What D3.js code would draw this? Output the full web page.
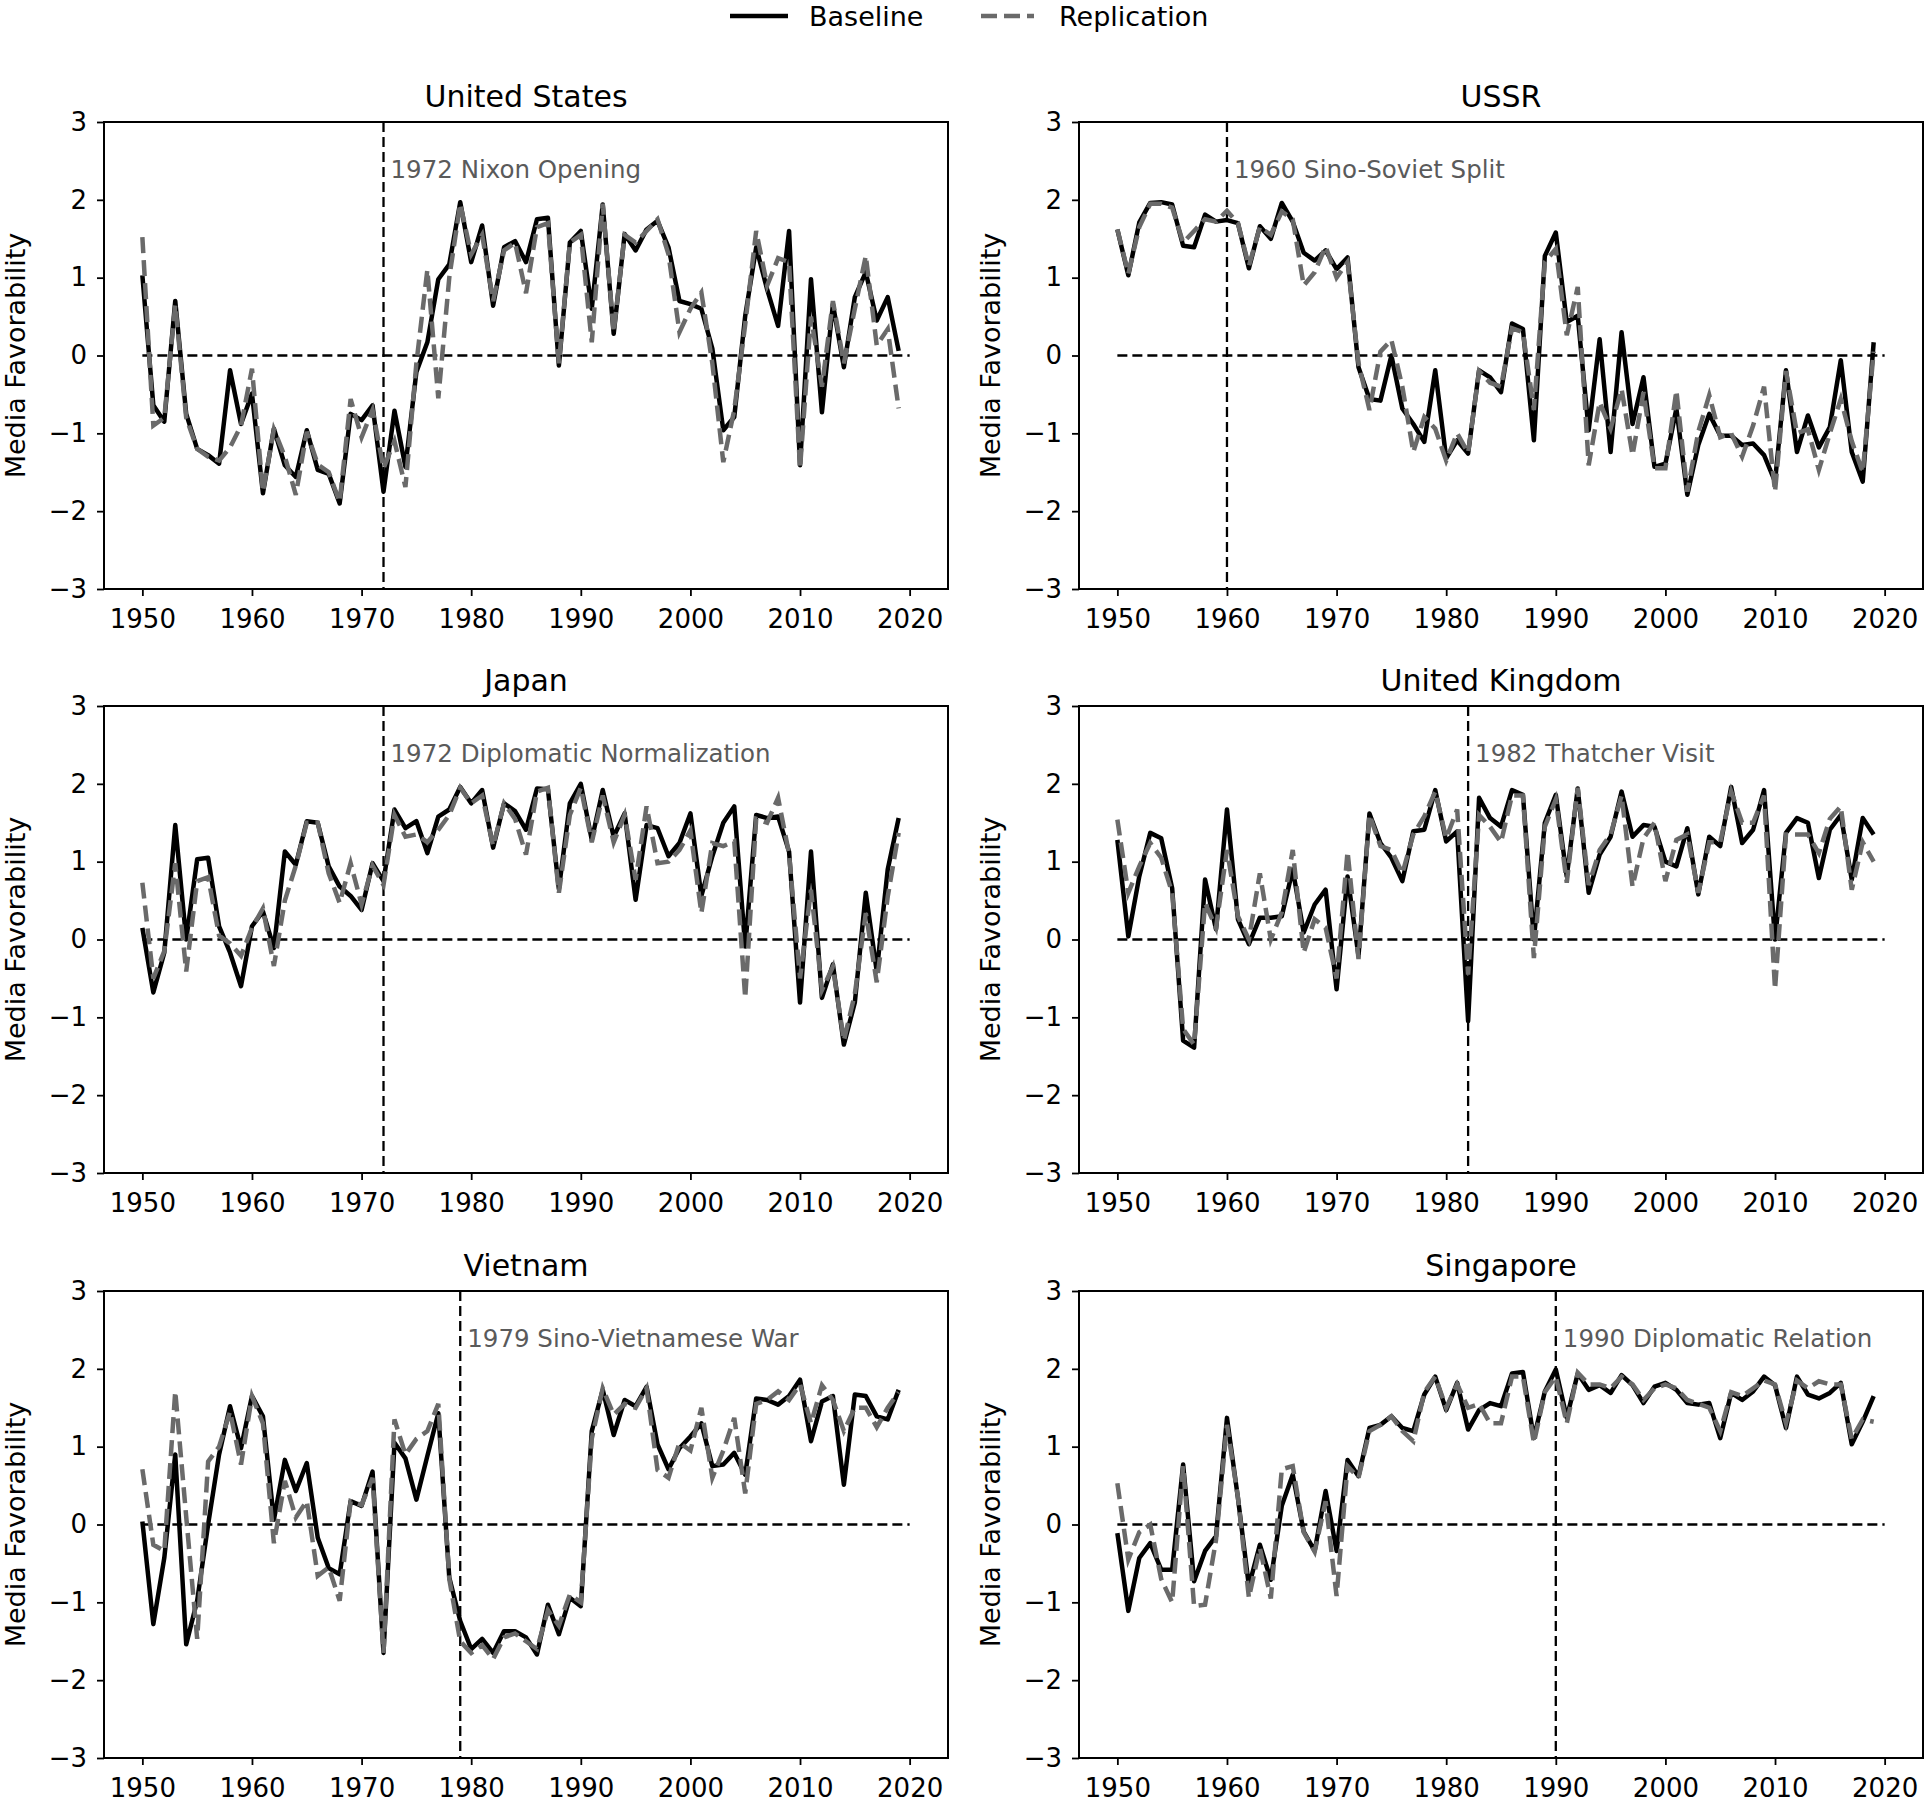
<!DOCTYPE html>
<html>
<head>
<meta charset="utf-8">
<script src="https://cdn.jsdelivr.net/npm/d3@7"></script>
<style>
  body { margin: 0; background: #fff; }
  svg { display: block; font-family: "DejaVu Sans", sans-serif; }
</style>
</head>
<body>
<div class="chart"></div>
<script>
// years on the x axis (1950..2019)
const years = d3.range(1950, 2020)
const xTicks = [1950, 1960, 1970, 1980, 1990, 2000, 2010, 2020]
const yTicks = [-3, -2, -1, 0, 1, 2, 3]

// United States
const usBaseline = [1.03, -0.64, -0.85, 0.70, -0.75, -1.20, -1.28, -1.39, -0.19, -0.88,
  -0.49, -1.77, -0.94, -1.41, -1.56, -0.96, -1.47, -1.52, -1.90, -0.75,
  -0.83, -0.64, -1.75, -0.71, -1.43, -0.21, 0.17, 0.98, 1.17, 1.97,
  1.20, 1.67, 0.64, 1.39, 1.47, 1.20, 1.75, 1.77, -0.13, 1.45,
  1.60, 0.60, 1.94, 0.28, 1.56, 1.35, 1.62, 1.73, 1.39, 0.70,
  0.66, 0.60, 0.09, -0.96, -0.79, 0.51, 1.39, 0.85, 0.38, 1.60,
  -1.41, 0.98, -0.73, 0.66, -0.15, 0.75, 1.07, 0.45, 0.75, 0.06]
const usReplication = [1.52, -0.90, -0.80, 0.65, -0.80, -1.20, -1.30, -1.35, -1.18, -0.90,
  -0.17, -1.75, -0.95, -1.30, -1.79, -0.98, -1.40, -1.50, -1.88, -0.56,
  -1.05, -0.70, -1.45, -1.10, -1.69, -0.10, 1.10, -0.55, 1.00, 1.95,
  1.30, 1.55, 0.70, 1.35, 1.45, 0.80, 1.65, 1.70, -0.10, 1.45,
  1.55, 0.17, 1.95, 0.30, 1.55, 1.45, 1.60, 1.75, 1.30, 0.30,
  0.60, 0.81, -0.10, -1.37, -0.70, 0.40, 1.60, 0.90, 1.25, 1.20,
  -1.45, 0.50, -0.40, 0.70, -0.10, 0.60, 1.28, 0.13, 0.34, -0.68]

// USSR
const ussrBaseline = [1.62, 1.03, 1.71, 1.96, 1.97, 1.94, 1.41, 1.39, 1.81, 1.72,
  1.74, 1.70, 1.12, 1.66, 1.50, 1.96, 1.72, 1.32, 1.22, 1.35,
  1.11, 1.26, -0.15, -0.56, -0.58, 0.00, -0.68, -0.88, -1.11, -0.19,
  -1.32, -1.09, -1.26, -0.19, -0.28, -0.47, 0.41, 0.34, -1.09, 1.28,
  1.58, 0.43, 0.51, -0.96, 0.21, -1.24, 0.30, -0.88, -0.28, -1.43,
  -1.39, -0.68, -1.79, -1.15, -0.75, -1.03, -1.03, -1.15, -1.13, -1.28,
  -1.62, -0.19, -1.24, -0.77, -1.18, -0.92, -0.06, -1.24, -1.62, 0.17]
const ussrReplication = [1.62, 1.05, 1.65, 1.95, 1.95, 1.90, 1.45, 1.60, 1.75, 1.72,
  1.86, 1.70, 1.15, 1.65, 1.55, 1.85, 1.75, 0.90, 1.07, 1.40,
  1.00, 1.20, -0.10, -0.70, 0.05, 0.20, -0.40, -1.24, -0.79, -0.94,
  -1.35, -1.00, -1.25, -0.20, -0.35, -0.40, 0.35, 0.30, -0.70, 1.20,
  1.37, 0.26, 0.88, -1.41, -0.60, -0.94, -0.43, -1.28, -0.47, -1.45,
  -1.45, -0.45, -1.75, -0.98, -0.51, -1.05, -1.00, -1.30, -0.90, -0.40,
  -1.75, -0.20, -1.00, -0.95, -1.47, -1.00, -0.56, -1.10, -1.50, 0.05]

// Japan
const japanBaseline = [0.15, -0.68, -0.17, 1.47, 0.00, 1.03, 1.05, 0.17, -0.17, -0.60,
  0.17, 0.36, -0.11, 1.13, 0.96, 1.52, 1.50, 0.94, 0.68, 0.56,
  0.38, 0.98, 0.75, 1.67, 1.43, 1.52, 1.11, 1.58, 1.67, 1.96,
  1.75, 1.92, 1.18, 1.75, 1.65, 1.41, 1.94, 1.93, 0.65, 1.75,
  2.00, 1.28, 1.92, 1.32, 1.62, 0.51, 1.47, 1.43, 1.07, 1.24,
  1.62, 0.56, 1.07, 1.50, 1.71, -0.09, 1.60, 1.56, 1.58, 1.13,
  -0.81, 1.13, -0.75, -0.32, -1.35, -0.81, 0.60, -0.41, 0.90, 1.56]
const japanReplication = [0.73, -0.50, -0.15, 0.98, -0.41, 0.75, 0.80, 0.05, -0.05, -0.21,
  0.15, 0.40, -0.34, 0.50, 0.95, 1.50, 1.50, 0.85, 0.47, 0.98,
  0.45, 0.95, 0.70, 1.60, 1.32, 1.35, 1.25, 1.41, 1.60, 1.95,
  1.75, 1.85, 1.20, 1.75, 1.55, 1.09, 1.90, 1.95, 0.60, 1.60,
  1.95, 1.25, 1.85, 1.25, 1.60, 0.77, 1.71, 0.98, 1.00, 1.15,
  1.40, 0.34, 1.24, 1.20, 1.26, -0.75, 1.55, 1.50, 1.82, 1.10,
  -0.50, 0.64, -0.65, -0.35, -1.30, -0.70, 0.34, -0.55, 0.55, 1.37]

// United Kingdom
const ukBaseline = [1.28, 0.04, 0.81, 1.37, 1.30, 0.66, -1.30, -1.39, 0.77, 0.13,
  1.67, 0.26, -0.06, 0.28, 0.28, 0.30, 0.90, 0.09, 0.45, 0.64,
  -0.64, 0.81, -0.21, 1.62, 1.24, 1.05, 0.75, 1.39, 1.41, 1.92,
  1.26, 1.39, -1.05, 1.82, 1.56, 1.45, 1.92, 1.86, 0.00, 1.50,
  1.86, 0.81, 1.94, 0.60, 1.09, 1.32, 1.90, 1.32, 1.47, 1.45,
  1.00, 0.94, 1.43, 0.58, 1.32, 1.20, 1.96, 1.24, 1.41, 1.92,
  0.00, 1.37, 1.56, 1.50, 0.79, 1.41, 1.60, 0.77, 1.56, 1.35]
const ukReplication = [1.54, 0.60, 0.94, 1.24, 1.05, 0.60, -1.15, -1.35, 0.47, 0.15,
  1.15, 0.30, 0.00, 0.85, 0.00, 0.35, 1.15, -0.17, 0.26, 0.15,
  -0.50, 1.13, -0.25, 1.60, 1.20, 1.15, 0.85, 1.35, 1.58, 1.90,
  1.30, 1.67, -0.45, 1.60, 1.45, 1.25, 1.85, 1.85, -0.24, 1.45,
  1.80, 0.73, 1.95, 0.70, 1.15, 1.35, 1.85, 0.68, 1.30, 1.50,
  0.75, 1.28, 1.35, 0.60, 1.25, 1.25, 1.90, 1.50, 1.50, 1.85,
  -0.64, 1.35, 1.35, 1.35, 1.11, 1.55, 1.71, 0.64, 1.25, 1.00]

// Vietnam
const vietnamBaseline = [0.04, -1.28, -0.43, 0.90, -1.54, -0.98, 0.00, 0.90, 1.52, 0.98,
  1.65, 1.39, 0.06, 0.83, 0.43, 0.79, -0.17, -0.56, -0.64, 0.30,
  0.24, 0.68, -1.65, 1.05, 0.85, 0.32, 0.88, 1.43, -0.68, -1.24,
  -1.60, -1.47, -1.65, -1.37, -1.37, -1.45, -1.67, -1.03, -1.41, -0.94,
  -1.05, 1.20, 1.73, 1.15, 1.60, 1.52, 1.77, 1.03, 0.71, 0.98,
  1.13, 1.30, 0.75, 0.77, 0.92, 0.64, 1.62, 1.60, 1.54, 1.65,
  1.86, 1.07, 1.58, 1.65, 0.51, 1.67, 1.65, 1.39, 1.35, 1.73]
const vietnamReplication = [0.71, -0.26, -0.34, 1.71, 0.10, -1.47, 0.81, 1.00, 1.45, 0.77,
  1.65, 1.30, -0.24, 0.56, 0.09, 0.30, -0.66, -0.55, -0.98, 0.30,
  0.25, 0.60, -1.65, 1.35, 0.90, 1.10, 1.20, 1.55, -0.70, -1.50,
  -1.65, -1.55, -1.73, -1.45, -1.40, -1.50, -1.60, -1.10, -1.30, -0.90,
  -1.00, 1.10, 1.75, 1.41, 1.55, 1.50, 1.75, 0.70, 0.60, 1.05,
  0.95, 1.50, 0.60, 0.95, 1.37, 0.40, 1.55, 1.60, 1.71, 1.60,
  1.80, 1.30, 1.79, 1.60, 1.20, 1.50, 1.50, 1.25, 1.50, 1.70]

// Singapore
const singaporeBaseline = [-0.11, -1.11, -0.43, -0.24, -0.58, -0.58, 0.77, -0.73, -0.34, -0.15,
  1.37, 0.34, -0.79, -0.26, -0.71, 0.24, 0.64, -0.09, -0.34, 0.43,
  -0.34, 0.83, 0.62, 1.24, 1.28, 1.39, 1.24, 1.20, 1.67, 1.90,
  1.47, 1.82, 1.22, 1.47, 1.56, 1.52, 1.94, 1.96, 1.11, 1.71,
  1.99, 1.37, 1.94, 1.73, 1.79, 1.69, 1.92, 1.79, 1.56, 1.77,
  1.82, 1.73, 1.56, 1.54, 1.56, 1.11, 1.69, 1.60, 1.71, 1.90,
  1.79, 1.24, 1.90, 1.67, 1.62, 1.69, 1.82, 1.03, 1.32, 1.65]
const singaporeReplication = [0.53, -0.45, -0.10, 0.00, -0.70, -1.00, 0.75, -1.05, -1.03, -0.20,
  1.28, 0.35, -0.94, -0.30, -0.95, 0.71, 0.75, -0.10, -0.35, 0.30,
  -0.92, 0.75, 0.60, 1.20, 1.28, 1.39, 1.20, 1.07, 1.70, 1.90,
  1.50, 1.80, 1.50, 1.55, 1.30, 1.30, 1.90, 1.90, 1.05, 1.70,
  1.90, 1.30, 1.95, 1.80, 1.80, 1.75, 1.90, 1.80, 1.60, 1.75,
  1.80, 1.75, 1.60, 1.55, 1.50, 1.20, 1.70, 1.65, 1.75, 1.85,
  1.80, 1.30, 1.85, 1.75, 1.84, 1.80, 1.80, 1.10, 1.35, 1.32]

// panel titles and the event marked in each
const countries = ["United States", "USSR", "Japan", "United Kingdom", "Vietnam", "Singapore"]
const eventYears = [1972, 1960, 1972, 1982, 1979, 1990]
const eventLabels = ["1972 Nixon Opening", "1960 Sino-Soviet Split", "1972 Diplomatic Normalization",
  "1982 Thatcher Visit", "1979 Sino-Vietnamese War", "1990 Diplomatic Relation"]
const baselines = [usBaseline, ussrBaseline, japanBaseline, ukBaseline, vietnamBaseline, singaporeBaseline]
const replications = [usReplication, ussrReplication, japanReplication, ukReplication, vietnamReplication, singaporeReplication]

// dimensions
const width = 1931
const height = 1808
const panelW = 844
const panelH = 467
const colX = [104, 1079]
const rowY = [122, 706, 1291]
const greyColor = "#6a6a6a"

let svg = d3.select(".chart")
  .append("svg")
  .attr("width", width)
  .attr("height", height)

svg.append("rect")
  .attr("width", width)
  .attr("height", height)
  .attr("fill", "white")

const x = d3.scaleLinear()
  .domain([1946.5, 2023.5])
  .range([0, panelW])

const y = d3.scaleLinear()
  .domain([-3, 3])
  .range([panelH, 0])

const line = d3.line()
  .x((d, i) => x(years[i]))
  .y(d => y(d))

countries.forEach((name, k) => {
  let g = svg.append("g")
    .attr("transform", `translate(${colX[k % 2]},${rowY[Math.floor(k / 2)]})`)

  // x axis
  g.append("g")
    .attr("transform", `translate(0,${panelH})`)
    .call(d3.axisBottom(x).tickValues(xTicks).tickFormat(d3.format("d")).tickSize(7).tickPadding(14))
  // y axis
  g.append("g")
    .call(d3.axisLeft(y).tickValues(yTicks).tickFormat(d3.format("d")).tickSize(7).tickPadding(10))

  g.selectAll(".domain").remove()
  g.selectAll(".tick line").attr("stroke", "#000").attr("stroke-width", 1.8)
  g.selectAll(".tick text")
    .attr("fill", "#000")
    .style("font-size", "26px")
    .style("font-family", "DejaVu Sans")

  // reference lines
  g.append("line")
    .attr("x1", x(1950)).attr("x2", x(2020))
    .attr("y1", y(0)).attr("y2", y(0))
    .attr("stroke", "#000")
    .attr("stroke-width", 2.3)
    .attr("stroke-dasharray", "10,5")

  g.append("line")
    .attr("x1", x(eventYears[k])).attr("x2", x(eventYears[k]))
    .attr("y1", 0).attr("y2", panelH)
    .attr("stroke", "#000")
    .attr("stroke-width", 2.3)
    .attr("stroke-dasharray", "10,5")

  g.append("text")
    .attr("x", x(eventYears[k]) + 7)
    .attr("y", y(2.4))
    .attr("dy", "0.36em")
    .attr("fill", "#5a5a5a")
    .style("font-size", "24.5px")
    .text(eventLabels[k])

  // series
  g.append("path")
    .datum(baselines[k])
    .attr("d", line)
    .attr("fill", "none")
    .attr("stroke", "#000")
    .attr("stroke-width", 4.5)
    .attr("stroke-linejoin", "round")

  g.append("path")
    .datum(replications[k])
    .attr("d", line)
    .attr("fill", "none")
    .attr("stroke", greyColor)
    .attr("stroke-width", 4.5)
    .attr("stroke-dasharray", "16,7")

  // frame
  g.append("rect")
    .attr("width", panelW)
    .attr("height", panelH)
    .attr("fill", "none")
    .attr("stroke", "#000")
    .attr("stroke-width", 2)

  // title
  g.append("text")
    .attr("x", panelW / 2)
    .attr("y", -15)
    .attr("text-anchor", "middle")
    .style("font-size", "30px")
    .text(name)

  // y label
  g.append("text")
    .attr("transform", `translate(-79,${panelH / 2}) rotate(-90)`)
    .attr("text-anchor", "middle")
    .style("font-size", "27px")
    .text("Media Favorability")
})

// legend at the top
let legend = svg.append("g")
legend.append("line")
  .attr("x1", 730).attr("x2", 788).attr("y1", 16).attr("y2", 16)
  .attr("stroke", "#000").attr("stroke-width", 4.5)
legend.append("text")
  .attr("x", 809).attr("y", 16).attr("dy", "0.36em")
  .style("font-size", "27px")
  .text("Baseline")
legend.append("line")
  .attr("x1", 981).attr("x2", 1034).attr("y1", 16).attr("y2", 16)
  .attr("stroke", greyColor).attr("stroke-width", 4.5)
  .attr("stroke-dasharray", "16,7")
legend.append("text")
  .attr("x", 1059).attr("y", 16).attr("dy", "0.36em")
  .style("font-size", "27px")
  .text("Replication")
</script>
</body>
</html>
